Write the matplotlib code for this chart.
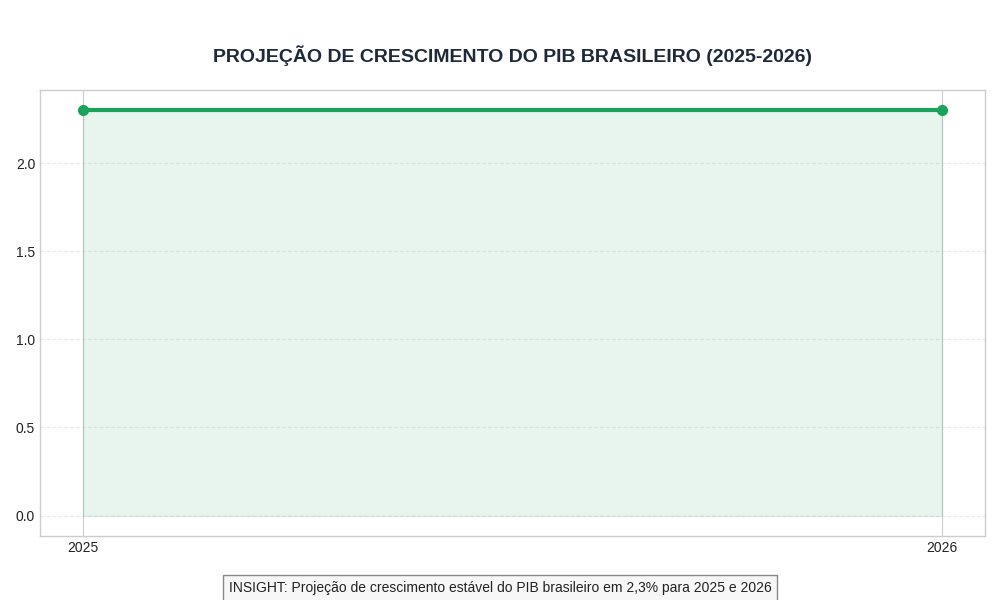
import matplotlib
matplotlib.use('Agg')

import matplotlib.pyplot as plt

# data
years = [2025, 2026]
pib_growth = [2.3, 2.3]

title = 'PROJEÇÃO DE CRESCIMENTO DO PIB BRASILEIRO (2025-2026)'
insight = 'INSIGHT: Projeção de crescimento estável do PIB brasileiro em 2,3% para 2025 e 2026'

plt.style.use('seaborn-v0_8-whitegrid')
plt.rcParams['font.family'] = ['Liberation Sans', 'DejaVu Sans']

color = '#19a35b'

fig, ax = plt.subplots(figsize=(10, 6), dpi=100)
fig.subplots_adjust(left=0.04, right=0.985, top=0.85, bottom=0.107)

ax.plot(years, pib_growth, color=color, linewidth=3, marker='o', markersize=7)
ax.fill_between(years, pib_growth, color=color, alpha=0.1)

ax.set_xticks(years)
ax.set_xticklabels([str(y) for y in years])
ax.grid(axis='y', linestyle='--', alpha=0.4)
ax.grid(axis='x', linestyle='-', alpha=1.0)
for s in ax.spines.values():
    s.set_visible(True)
    s.set_color('#cccccc')
ax.tick_params(labelsize=10, colors='#222222')

ax.set_title(title, fontsize=14, fontweight='bold', color='#1f2937', pad=20)

fig.text(0.5, 0.02, insight, ha='center', va='center', fontsize=10, color='#222222',
         bbox=dict(boxstyle='square,pad=0.4', facecolor='#f7f7f7', edgecolor='#888888'))

fig.savefig('out.png', dpi=100)
